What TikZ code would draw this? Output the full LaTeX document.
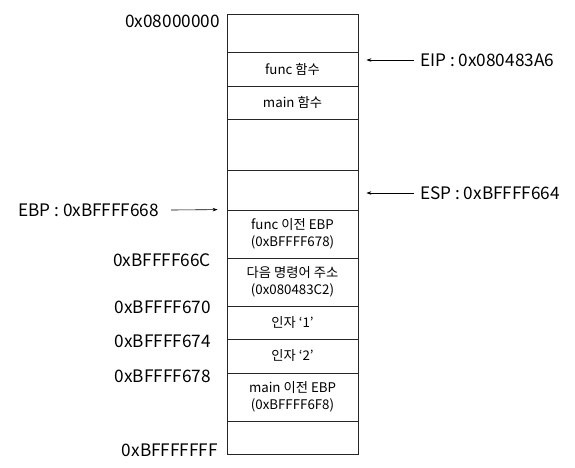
\documentclass[tikz,border=0pt]{standalone}
\usepackage{fontspec}
\setmainfont{Noto Sans CJK KR}
\usetikzlibrary{arrows.meta}

\begin{document}
\begin{tikzpicture}[x=1pt, y=-1pt,
    cell/.style={rectangle, draw=black!85, line width=0.8pt, minimum width=131pt, inner sep=0pt, align=center, font=\fontsize{13.3}{17}\selectfont},
    addr/.style={inner sep=0pt, font=\fontsize{17.2}{20}\selectfont},
    ptr/.style={-{Stealth[length=5pt, width=3.5pt]}, line width=0.6pt}]

    \useasboundingbox (0,0) rectangle (575,467);

    % Stack cells, top to bottom
    \node[cell, minimum height=38pt] (c1) at (292.5, 33) {};
    \node[cell, minimum height=34pt] (c2) at (292.5, 69) {func 함수};
    \node[cell, minimum height=33pt] (c3) at (292.5, 102.5) {main 함수};
    \node[cell, minimum height=51pt] (c4) at (292.5, 144.5) {};
    \node[cell, minimum height=40pt] (c5) at (292.5, 190) {};
    \node[cell, minimum height=48pt] (c6) at (292.5, 234) {func 이전 EBP\\(0xBFFFF678)};
    \node[cell, minimum height=48pt] (c7) at (292.5, 282) {다음 명령어 주소\\(0x080483C2)};
    \node[cell, minimum height=33pt] (c8) at (292.5, 322.5) {인자 ‘1’};
    \node[cell, minimum height=34pt] (c9) at (292.5, 356) {인자 ‘2’};
    \node[cell, minimum height=48pt] (c10) at (292.5, 397) {main 이전 EBP\\(0xBFFFF6F8)};
    \node[cell, minimum height=33pt] (c11) at (292.5, 437.5) {};

    % Addresses on the left
    \node[addr, anchor=east] (a0) at (220, 21) {0x08000000};
    \node[addr, anchor=east] (a1) at (211, 260) {0xBFFFF66C};
    \node[addr, anchor=east] (a2) at (211, 307) {0xBFFFF670};
    \node[addr, anchor=east] (a3) at (211, 341) {0xBFFFF674};
    \node[addr, anchor=east] (a4) at (211, 376) {0xBFFFF678};
    \node[addr, anchor=east] (a5) at (218, 450) {0xBFFFFFFF};

    % Registers
    \node[addr, anchor=west] (ebp) at (18, 210) {EBP : 0xBFFFF668};
    \node[addr, anchor=west] (eip) at (420, 60) {EIP : 0x080483A6};
    \node[addr, anchor=west] (esp) at (420, 193) {ESP : 0xBFFFF664};

    \draw[ptr] ([xshift=12pt]ebp.east) -- ([xshift=-9pt]c6.north west);
    \draw[ptr] ([xshift=-6pt]eip.west) -- ([xshift=8pt]c2.east |- eip.west);
    \draw[ptr] ([xshift=-6pt]esp.west) -- ([xshift=8pt]c5.east |- esp.west);

\end{tikzpicture}
\end{document}
